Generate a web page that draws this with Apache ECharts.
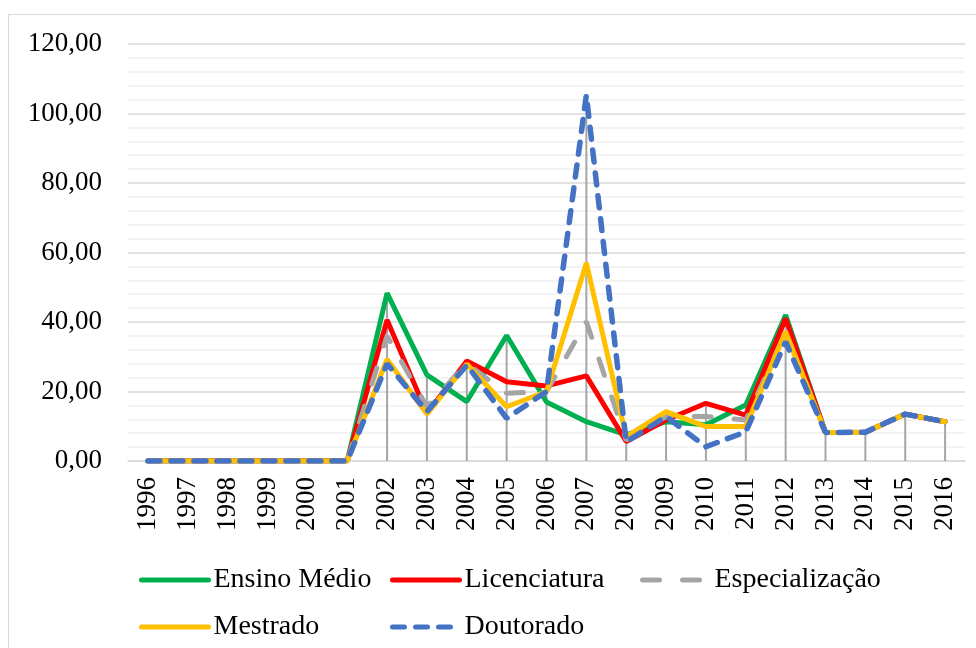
<!DOCTYPE html>
<html>
<head>
    <meta charset="utf-8">
    <title>Evolução por titulação</title>
    <script src="https://cdn.jsdelivr.net/npm/echarts@6/dist/echarts.min.js"></script>
    <style type="text/css">
        html, body { margin: 0; padding: 0; background: #fff; }
        #chart { width: 976px; height: 648px; }
    </style>
</head>
<body>
    <div id="chart"></div>
    <script>
        var anos = ['1996', '1997', '1998', '1999', '2000', '2001', '2002', '2003', '2004', '2005', '2006',
            '2007', '2008', '2009', '2010', '2011', '2012', '2013', '2014', '2015', '2016'];

        var ensinoMedio = [0, 0, 0, 0, 0, 0, 48.3, 24.8, 17.1, 36.1, 17.0, 11.3, 7.5, 11.3, 10.4, 16.1, 42.0, 8.2, 8.3, 13.5, 11.3];
        var licenciatura = [0, 0, 0, 0, 0, 0, 40.6, 13.7, 28.8, 22.8, 21.6, 24.5, 5.6, 11.8, 16.6, 13.2, 41.0, 8.2, 8.3, 13.5, 11.3];
        var especializacao = [0, 0, 0, 0, 0, 0, 36.0, 15.6, 28.0, 19.5, 20.0, 40.1, 6.0, 12.8, 12.8, 11.8, 37.0, 8.2, 8.3, 13.5, 11.3];
        var mestrado = [0, 0, 0, 0, 0, 0, 29.3, 13.5, 27.9, 15.6, 20.0, 57.0, 7.0, 14.2, 9.9, 9.9, 37.2, 8.2, 8.3, 13.5, 11.3];
        var doutorado = [0, 0, 0, 0, 0, 0, 28.0, 14.2, 27.6, 12.3, 20.0, 105.3, 5.5, 12.8, 4.1, 8.4, 34.3, 8.2, 8.3, 13.5, 11.3];

        var yTicks = [0, 20, 40, 60, 80, 100, 120];

        // linhas de projeção (drop lines) até o maior valor de cada ano
        var maximos = [];
        for (var i = 0; i < anos.length; i++) {
            maximos.push(Math.max(ensinoMedio[i], licenciatura[i], especializacao[i], mestrado[i], doutorado[i]));
        }

        var fonte = '"Liberation Serif", "Times New Roman", serif';

        function legenda(nome, left, top) {
            return {
                data: [nome],
                left: left,
                top: top,
                itemWidth: 67,
                itemHeight: 14,
                itemGap: 0,
                selectedMode: false,
                itemStyle: { opacity: 0 },
                lineStyle: { width: 5 },
                textStyle: { fontFamily: fonte, fontSize: 28, color: '#000', lineHeight: 30 }
            };
        }

        var chart = echarts.init(document.getElementById('chart'));
        var option = {
            animation: false,
            backgroundColor: '#fff',
            graphic: [{
                type: 'rect',
                shape: { x: 8.5, y: 14.5, width: 975, height: 640 },
                style: { fill: 'none', stroke: '#d9d9d9', lineWidth: 1 },
                silent: true
            }],
            legend: [
                legenda('Ensino Médio', 134, 560),
                legenda('Licenciatura', 385, 560),
                legenda('Especialização', 635, 560),
                legenda('Mestrado', 134, 607),
                legenda('Doutorado', 385, 607)
            ],
            grid: { left: 128, right: 11, top: 44, height: 417 },
            xAxis: {
                type: 'category',
                data: anos,
                boundaryGap: true,
                axisLine: { show: true, lineStyle: { color: '#d9d9d9', width: 1.5 } },
                axisTick: { show: false },
                axisLabel: {
                    rotate: 90,
                    interval: 0,
                    margin: 16,
                    fontFamily: fonte,
                    fontSize: 27,
                    color: '#000'
                }
            },
            yAxis: {
                type: 'value',
                min: yTicks[0],
                max: yTicks[yTicks.length - 1],
                interval: 20,
                axisLine: { show: false },
                axisTick: { show: false },
                splitLine: { lineStyle: { color: '#d9d9d9', width: 1.5 } },
                minorTick: { show: false, splitNumber: 5 },
                minorSplitLine: { show: true, lineStyle: { color: '#efefef', width: 1.5 } },
                axisLabel: {
                    margin: 26,
                    fontFamily: fonte,
                    fontSize: 27,
                    color: '#000',
                    formatter: function (v) { return v.toFixed(2).replace('.', ','); }
                }
            },
            series: [
                {
                    name: 'projecao',
                    type: 'bar',
                    data: maximos,
                    barWidth: 2,
                    silent: true,
                    itemStyle: { color: '#a6a6a6' },
                    z: 1
                },
                {
                    name: 'Ensino Médio',
                    type: 'line',
                    data: ensinoMedio,
                    symbol: 'none',
                    color: '#00b050',
                    lineStyle: { width: 5, color: '#00b050', cap: 'round' },
                    z: 2
                },
                {
                    name: 'Licenciatura',
                    type: 'line',
                    data: licenciatura,
                    symbol: 'none',
                    color: '#ff0000',
                    lineStyle: { width: 5, color: '#ff0000', cap: 'round' },
                    z: 3
                },
                {
                    name: 'Especialização',
                    type: 'line',
                    data: especializacao,
                    symbol: 'none',
                    color: '#a5a5a5',
                    lineStyle: { width: 5, color: '#a5a5a5', type: [17, 23], cap: 'round' },
                    z: 4
                },
                {
                    name: 'Mestrado',
                    type: 'line',
                    data: mestrado,
                    symbol: 'none',
                    color: '#ffc000',
                    lineStyle: { width: 5, color: '#ffc000', cap: 'round' },
                    z: 5
                },
                {
                    name: 'Doutorado',
                    type: 'line',
                    data: doutorado,
                    symbol: 'none',
                    color: '#4472c4',
                    lineStyle: { width: 5.5, color: '#4472c4', type: [12, 11], cap: 'round' },
                    z: 6
                }
            ]
        };
        chart.setOption(option);
    </script>
</body>
</html>
